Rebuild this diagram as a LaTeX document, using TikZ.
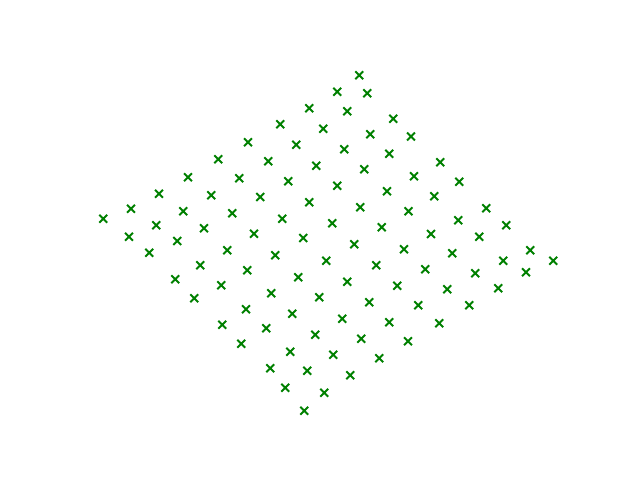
\documentclass[tikz,border=0pt]{standalone}
\definecolor{mplgreen}{HTML}{008000}
\tikzset{
  xmark/.style={draw=mplgreen, line width=1.4pt}
}
\begin{document}
\begin{tikzpicture}[x=0.025cm, y=-0.025cm]
        \useasboundingbox (0,0) rectangle (640,480);
        \foreach \px/\py in {
          359.3/75.3, 337.3/91.7, 367.3/93.3, 309.3/108.3, 347.3/111.3,
          393.3/118.7, 280.3/124.3, 323.3/128.7, 370.3/134.3, 411/136.5,
          248/142.3, 296.3/144.7, 344.3/149.3, 389.3/153.7, 218.3/159.3,
          268.3/161.3, 316.3/165.7, 364.3/169.3, 440.3/162.3, 188/177.3,
          239.3/178.3, 288.3/181.3, 337.3/185.7, 414/176.3, 459.3/181.7,
          159/193.7, 211.3/195.3, 260.3/197, 309.3/202.3, 387/191.3,
          434.3/196.3, 486.3/208.3, 131/208.7, 183.3/211.3, 232.3/213.3,
          282.3/218.7, 360.3/207.3, 408.5/211.3, 458.3/220.3, 506.3/225.3,
          103.3/218.7, 156.3/225.3, 204/228.3, 254/233.7, 332.3/223.3,
          381.7/227.3, 431/234, 479.3/236.7, 129/236.7, 177.3/241,
          303.3/238, 149.3/252.7, 227.3/250.3, 354.3/244.3, 404/249.3,
          452.3/253.3, 530.3/250.3, 200.3/265.3, 247.3/270.3, 275.3/255.3,
          326.3/260.7, 376.3/265.3, 425.3/269.3, 503.3/260.7, 553.3/260.7,
          175.3/279.3, 221.3/285.3, 298.3/277.3, 347.3/281.7, 397.3/285.7,
          475.3/273.3, 526/272.3, 194.3/298.3, 271.3/293.3, 319.3/297.3,
          369.3/302.3, 447.3/289.3, 498.3/288.3, 246/309.3, 292.3/313.7,
          342.3/318.7, 418.3/305.3, 469.3/305.3, 222.3/324.7, 266.3/328.3,
          389.3/322.3, 315.3/334.7, 361.3/338.7, 439.3/323.3, 241.3/343.7,
          290.3/351.7, 333.3/354.7, 408/341.2, 379.3/358.3, 270.3/368.3,
          307.3/370.7, 350.3/375.3, 285.3/387.7, 324.3/392.7, 304.3/410.7}
          \draw[xmark] (\px,\py) +(-2.8pt,-2.8pt) -- +(2.8pt,2.8pt)
                                 +(-2.8pt,2.8pt) -- +(2.8pt,-2.8pt);
\end{tikzpicture}
\end{document}
